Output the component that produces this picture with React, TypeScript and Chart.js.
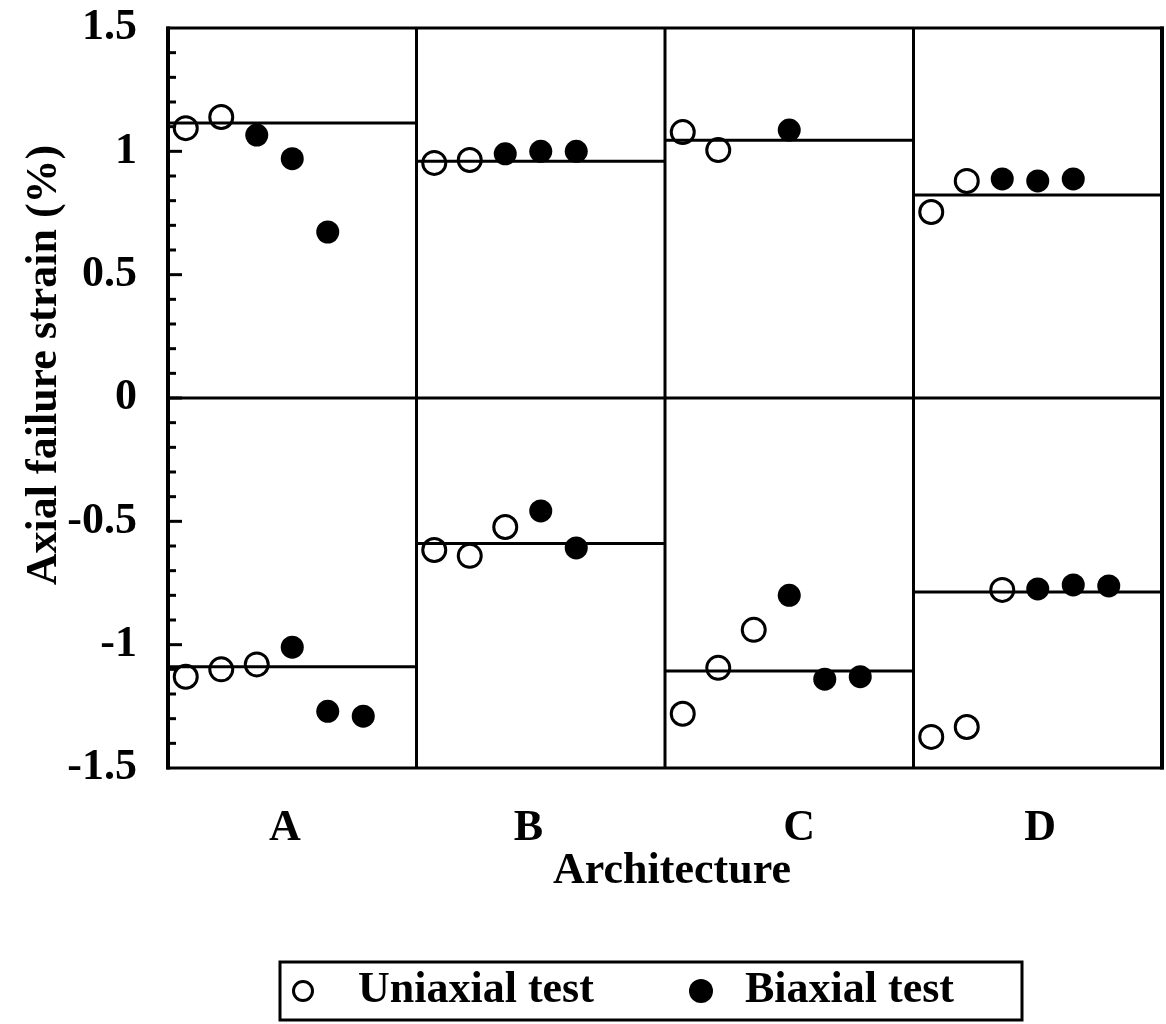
import React, { useEffect, useRef } from "react";
import { Chart, registerables } from "chart.js";

Chart.register(...registerables);

// ---------- data ----------
const architectures = ["A", "B", "C", "D"];
const categoryTickPositions = [0.47, 1.45, 2.54, 3.51];
const slotsPerPanel = 7;
const yTickLabels = ["-1.5", "-1", "-0.5", "0", "0.5", "1", "1.5"];

// upper half (tension)
const upperUniaxial = [[1.094, 1.139], [0.953, 0.965], [1.078, 1.005], [0.754, 0.88]];
const upperUniaxialSlots = [[0, 1], [0, 1], [0, 1], [0, 1]];
const upperBiaxial = [[1.066, 0.97, 0.673], [0.99, 1.0, 1.0], [1.086], [0.888, 0.88, 0.888]];
const upperBiaxialSlots = [[2, 3, 4], [2, 3, 4], [3], [2, 3, 4]];
// lower half (compression)
const lowerUniaxial = [[-1.13, -1.1, -1.08], [-0.616, -0.64, -0.523], [-1.28, -1.094, -0.94], [-1.374, -1.334, -0.778]];
const lowerUniaxialSlots = [[0, 1, 2], [0, 1, 2], [0, 1, 2], [0, 1, 2]];
const lowerBiaxial = [[-1.01, -1.27, -1.29], [-0.458, -0.608], [-0.8, -1.14, -1.13], [-0.774, -0.758, -0.762]];
const lowerBiaxialSlots = [[3, 4, 5], [3, 4], [3, 4, 5], [3, 4, 5]];
// mean lines
const upperMean = [1.115, 0.96, 1.045, 0.823];
const lowerMean = [-1.09, -0.59, -1.107, -0.786];

const FONT = "'Liberation Serif', 'DejaVu Serif', serif";

function toPoints(values: number[][], slots: number[][]) {
  const pts: { x: number; y: number }[] = [];
  values.forEach((arr, p) =>
    arr.forEach((v, i) => pts.push({ x: p + (slots[p][i] + 0.5) / slotsPerPanel, y: v }))
  );
  return pts;
}

const framePlugin = {
  id: "frame",
  beforeDatasetsDraw(chart: any) {
    const { ctx, chartArea: a, scales } = chart;
    const x = scales.x;
    const y = scales.y;
    ctx.save();
    ctx.strokeStyle = "#000";
    ctx.lineCap = "butt";
    // inner ticks on the left axis
    y.ticks.forEach((t: any) => {
      const v = t.value;
      if (Math.abs(Math.abs(v) - 1.5) < 1e-6) return;
      const py = y.getPixelForValue(v);
      const major = Math.abs(v * 2 - Math.round(v * 2)) < 1e-6;
      ctx.lineWidth = 3;
      ctx.beginPath();
      ctx.moveTo(a.left, py);
      ctx.lineTo(a.left + (major ? 14 : 8), py);
      ctx.stroke();
    });
    // zero line
    const y0 = y.getPixelForValue(0);
    ctx.lineWidth = 3;
    ctx.beginPath();
    ctx.moveTo(a.left, y0);
    ctx.lineTo(a.right, y0);
    ctx.stroke();
    // panel dividers
    for (let i = 1; i < architectures.length; i++) {
      const px = x.getPixelForValue(i);
      ctx.beginPath();
      ctx.moveTo(px, a.top);
      ctx.lineTo(px, a.bottom);
      ctx.stroke();
    }
    // frame
    ctx.lineWidth = 3;
    ctx.strokeRect(a.left, a.top, a.right - a.left, a.bottom - a.top);
    ctx.lineWidth = 4;
    ctx.beginPath();
    ctx.moveTo(a.left, a.top - 1.5);
    ctx.lineTo(a.left, a.bottom + 1.5);
    ctx.moveTo(a.right, a.top - 1.5);
    ctx.lineTo(a.right, a.bottom + 1.5);
    ctx.stroke();
    ctx.restore();
  },
  afterDraw(chart: any) {
    const { ctx } = chart;
    ctx.save();
    ctx.fillStyle = "#000";
    ctx.strokeStyle = "#000";
    ctx.font = `bold 44px ${FONT}`;
    ctx.textBaseline = "middle";
    // y-axis title
    ctx.save();
    ctx.translate(45, 365);
    ctx.rotate(-Math.PI / 2);
    ctx.textAlign = "center";
    ctx.fillText("Axial failure strain (%)", 0, 0);
    ctx.restore();
    // x-axis title
    ctx.textAlign = "center";
    ctx.fillText("Architecture", 672, 872);
    // legend
    ctx.lineWidth = 3;
    ctx.strokeRect(280, 962, 742, 58);
    ctx.beginPath();
    ctx.arc(303, 991, 9.5, 0, Math.PI * 2);
    ctx.stroke();
    ctx.beginPath();
    ctx.arc(701, 991, 12, 0, Math.PI * 2);
    ctx.fill();
    ctx.textAlign = "left";
    ctx.fillText("Uniaxial test", 358, 991);
    ctx.fillText("Biaxial test", 745, 991);
    ctx.restore();
  },
};

export default function App() {
  const ref = useRef<HTMLCanvasElement | null>(null);

  useEffect(() => {
    if (!ref.current) return;
    const meanSets: any[] = [];
    [upperMean, lowerMean].forEach((means) =>
      means.forEach((m, p) =>
        meanSets.push({
          data: [
            { x: p, y: m },
            { x: p + 1, y: m },
          ],
          showLine: true,
          borderColor: "#000",
          borderWidth: 3,
          pointRadius: 0,
        })
      )
    );
    const chart = new Chart(ref.current, {
      type: "scatter",
      data: {
        datasets: [
          ...meanSets,
          {
            label: "Uniaxial test",
            data: [...toPoints(upperUniaxial, upperUniaxialSlots), ...toPoints(lowerUniaxial, lowerUniaxialSlots)],
            pointStyle: "circle",
            pointRadius: 11.5,
            pointBorderWidth: 3,
            pointBorderColor: "#000",
            pointBackgroundColor: "rgba(0,0,0,0)",
          },
          {
            label: "Biaxial test",
            data: [...toPoints(upperBiaxial, upperBiaxialSlots), ...toPoints(lowerBiaxial, lowerBiaxialSlots)],
            pointStyle: "circle",
            pointRadius: 11.5,
            pointBorderWidth: 0,
            pointBackgroundColor: "#000",
          },
        ],
      },
      options: {
        animation: false,
        responsive: false,
        maintainAspectRatio: false,
        events: [],
        layout: { autoPadding: false, padding: { top: 28, right: 4, left: 0, bottom: 0 } },
        plugins: { legend: { display: false }, tooltip: { enabled: false } },
        scales: {
          x: {
            type: "linear",
            min: 0,
            max: architectures.length,
            grid: { display: false },
            border: { display: false },
            afterFit: (s: any) => {
              s.height = 256;
              s.paddingLeft = 0;
              s.paddingRight = 0;
            },
            afterBuildTicks: (s: any) => {
              s.ticks = categoryTickPositions.map((v) => ({ value: v }));
            },
            ticks: {
              autoSkip: false,
              maxRotation: 0,
              padding: 26,
              color: "#000",
              font: { family: FONT, size: 44, weight: "bold" },
              callback: (_v: any, i: number) => architectures[i],
            },
          },
          y: {
            type: "linear",
            min: -1.5,
            max: 1.5,
            grid: { display: false },
            border: { display: false },
            afterFit: (s: any) => {
              s.width = 168;
              s.paddingTop = 0;
              s.paddingBottom = 0;
            },
            ticks: {
              stepSize: 0.1,
              autoSkip: false,
              padding: 23,
              color: "#000",
              font: { family: FONT, size: 44, weight: "bold" },
              callback: (v: any) => {
                const n = Number(v);
                if (Math.abs(n * 2 - Math.round(n * 2)) > 1e-6) return "";
                return yTickLabels[Math.round((n + 1.5) * 2)];
              },
            },
          },
        },
      },
      plugins: [framePlugin],
    } as any);
    return () => chart.destroy();
  }, []);

  return (
    <div style={{ position: "absolute", left: 0, top: 0, width: 1166, height: 1024, background: "#fff" }}>
      <canvas ref={ref} width={1166} height={1024} />
    </div>
  );
}
